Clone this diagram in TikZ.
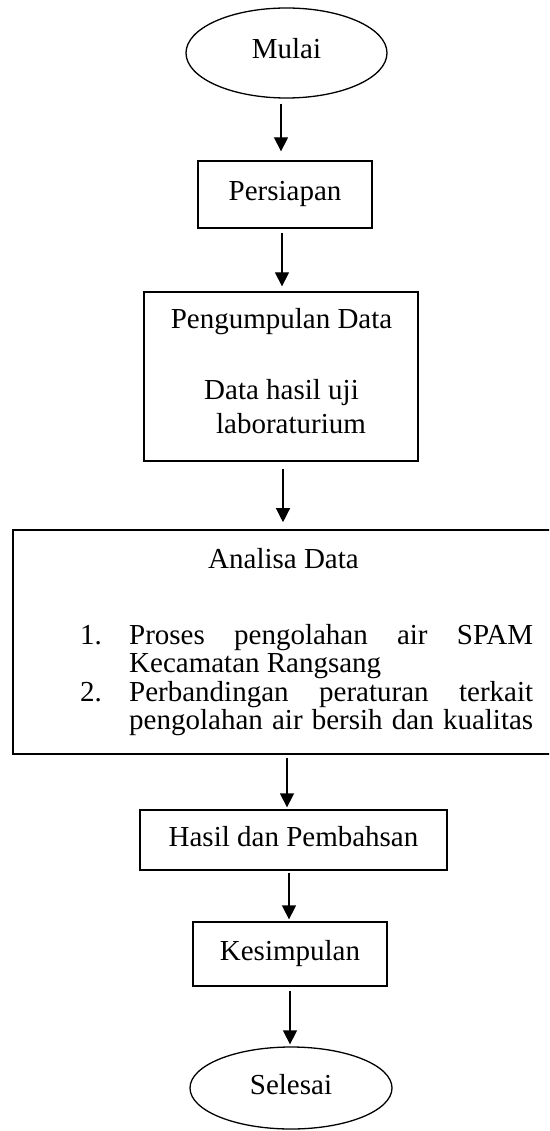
\documentclass[tikz,border=0pt]{standalone}
\usepackage{fontspec}
\setmainfont{Liberation Serif}
\usetikzlibrary{arrows.meta,calc,shapes.geometric}

\begin{document}
\begin{tikzpicture}[x=1pt,y=-1pt,
  every node/.style={font=\fontsize{29}{34}\selectfont},
  box/.style={draw, line width=1.3pt, rectangle, inner sep=0pt,
              text height=19pt, text depth=7pt},
  oval/.style={draw, line width=1.3pt, ellipse, inner sep=0pt,
               text height=19pt, text depth=7pt},
  txt/.style={inner sep=0pt, anchor=base},
  row/.style={inner sep=0pt, anchor=base west},
  arr/.style={line width=1.3pt, -{Triangle[length=14pt,width=14pt]}}]

% page area
\fill[white] (0,0) rectangle (549,1131);
\clip (0,0) rectangle (549,1131);

% start terminal
\node[oval, minimum width=201pt, minimum height=90pt] (mulai) at (286.5,53) {Mulai};

% process steps
\node[box, minimum width=174pt, minimum height=67pt] (persiapan) at (285,194.5) {Persiapan};

\node[box, minimum width=274pt, minimum height=169pt] (kumpul) at (281,376.5) {};
\node[txt] (k1) at (281.5,328.5) {Pengumpulan Data};
\node[txt] (k2) at (281.5,399.5) {Data hasil uji};
\node[txt] (k3) at (291,433.5) {laboraturium};

\node[draw, line width=1.6pt, rectangle, inner sep=0pt,
      minimum width=539pt, minimum height=224pt] (analisa) at (282.5,642) {};
\node[txt] (a0) at (283.5,568.5) {Analisa Data};
\node[row] (a1) at (80,644)
  {\makebox[49pt][l]{1.}\hbox to 404pt{Proses\hfill pengolahan\hfill air\hfill SPAM}};
\node[row] (a2) at (80,672.5)
  {\makebox[49pt][l]{}Kecamatan Rangsang};
\node[row] (a3) at (80,701)
  {\makebox[49pt][l]{2.}\hbox to 404pt{Perbandingan\hfill peraturan\hfill terkait}};
\node[row] (a4) at (80,729.5)
  {\makebox[49pt][l]{}\hbox to 404pt{pengolahan\hfill air\hfill bersih\hfill dan\hfill kualitas}};

\node[box, minimum width=307pt, minimum height=60pt] (hasil) at (293.5,840) {Hasil dan Pembahsan};
\node[box, minimum width=194pt, minimum height=64pt] (simpul) at (290,954) {Kesimpulan};

% end terminal
\node[oval, minimum width=202pt, minimum height=82pt] (selesai) at (291,1088) {Selesai};

% flow arrows
\draw[arr] ($(mulai.south)+(-5.5,5)$) -- ($(persiapan.north)+(-4,-9)$);
\draw[arr] ($(persiapan.south)+(-3,4)$) -- ($(kumpul.north)+(1,-5)$);
\draw[arr] ($(kumpul.south)+(2,7)$) -- ($(analisa.north)+(0.5,-7)$);
\draw[arr] ($(analisa.south)+(4.5,3)$) -- ($(hasil.north)+(-6.5,-2)$);
\draw[arr] ($(hasil.south)+(-4.5,2)$) -- ($(simpul.north)+(-1,-2)$);
\draw[arr] ($(simpul.south)+(0,4)$) -- ($(selesai.north)+(-1,-2)$);
\end{tikzpicture}
\end{document}
